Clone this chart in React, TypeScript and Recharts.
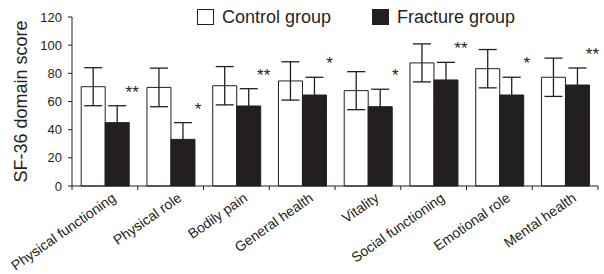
import { BarChart, Bar, XAxis, YAxis, ErrorBar } from "recharts";

const domains = [
  "Physical functioning",
  "Physical role",
  "Bodily pain",
  "General health",
  "Vitality",
  "Social functioning",
  "Emotional role",
  "Mental health",
];
const controlMean = [70.5, 70, 71.2, 74.6, 67.7, 87.4, 83.3, 77.2];
const controlSd = [13.5, 13.7, 13.6, 13.6, 13.5, 13.5, 13.6, 13.6];
const fractureMean = [45, 33.1, 56.8, 64.6, 56.3, 75.3, 64.6, 71.7];
const fractureSd = [12, 11.9, 12.3, 12.6, 12.4, 12.5, 12.6, 12.1];
const significance = ["**", "*", "**", "*", "*", "**", "*", "**"];
const yTicks = [0, 20, 40, 60, 80, 100, 120];

const data = domains.map((name, i) => ({
  name,
  control: controlMean[i],
  controlSd: controlSd[i],
  fracture: fractureMean[i],
  fractureSd: fractureSd[i],
}));

const INK = "#231f20";
const FONT = "'Liberation Sans', Arial, sans-serif";
const W = 604;
const H = 274;
const margin = { top: 17, right: 6, bottom: 58, left: 0 };
const Y_W = 72;
const band = (W - margin.left - margin.right - Y_W) / domains.length;

function DomainTick(props: any) {
  const { x, y, payload, index } = props;
  return (
    <g>
      <line x1={x - band / 2} x2={x - band / 2} y1={y - 8} y2={y - 4} stroke={INK} />
      {index === domains.length - 1 && (
        <line x1={x + band / 2} x2={x + band / 2} y1={y - 8} y2={y - 4} stroke={INK} />
      )}
      <text
        transform={`translate(${x + 12},${y + 6}) rotate(-35)`}
        textAnchor="end"
        fontSize={14}
        fontFamily={FONT}
        fill={INK}
      >
        {payload.value}
      </text>
    </g>
  );
}

function Stars(props: any) {
  const { x, y, width, height, value, index } = props;
  if (!value) return null;
  const errTop = y - fractureSd[index] * (height / value);
  return (
    <text
      x={x + width / 2 + 15}
      y={errTop - 8}
      textAnchor="middle"
      fontSize={17}
      fontFamily={FONT}
      fill={INK}
    >
      {significance[index]}
    </text>
  );
}

function GroupLegend() {
  const item = (label: string, fill: string, left: number) => (
    <div style={{ position: "absolute", left, top: 9, display: "flex", alignItems: "center" }}>
      <div style={{ width: 15, height: 14, background: fill, border: `1px solid ${INK}` }} />
      <span style={{ marginLeft: 8, fontSize: 18, color: INK, fontFamily: FONT, lineHeight: "16px" }}>
        {label}
      </span>
    </div>
  );
  return (
    <>
      {item("Control group", "#fff", 197)}
      {item("Fracture group", INK, 372)}
    </>
  );
}

export default function App() {
  return (
    <div style={{ position: "absolute", left: 0, top: 0, width: W, height: H, background: "#fff" }}>
      <BarChart width={W} height={H} data={data} margin={margin} barGap={0} barCategoryGap="14%">
        <XAxis
          dataKey="name"
          interval={0}
          height={30}
          tick={<DomainTick />}
          tickLine={false}
          axisLine={{ stroke: INK }}
          tickSize={4}
          tickMargin={4}
        />
        <YAxis
          width={Y_W}
          domain={[0, 120]}
          ticks={yTicks}
          interval={0}
          tickSize={4}
          tickMargin={6}
          axisLine={{ stroke: INK }}
          tickLine={{ stroke: INK }}
          tick={{ fill: INK, fontSize: 13, fontFamily: FONT }}
          label={{
            value: "SF-36 domain score",
            angle: -90,
            position: "insideLeft",
            offset: 0,
            dx: 21,
            style: { fill: INK, fontSize: 18, fontFamily: FONT, textAnchor: "middle" },
          }}
        />
        <Bar dataKey="control" fill="#fff" stroke={INK} strokeWidth={1} isAnimationActive={false}>
          <ErrorBar dataKey="controlSd" width={9} stroke={INK} strokeWidth={1.3} />
        </Bar>
        <Bar dataKey="fracture" fill={INK} stroke={INK} isAnimationActive={false} label={<Stars />}>
          <ErrorBar dataKey="fractureSd" width={9} stroke={INK} strokeWidth={1.3} />
        </Bar>
      </BarChart>
      <GroupLegend />
    </div>
  );
}
